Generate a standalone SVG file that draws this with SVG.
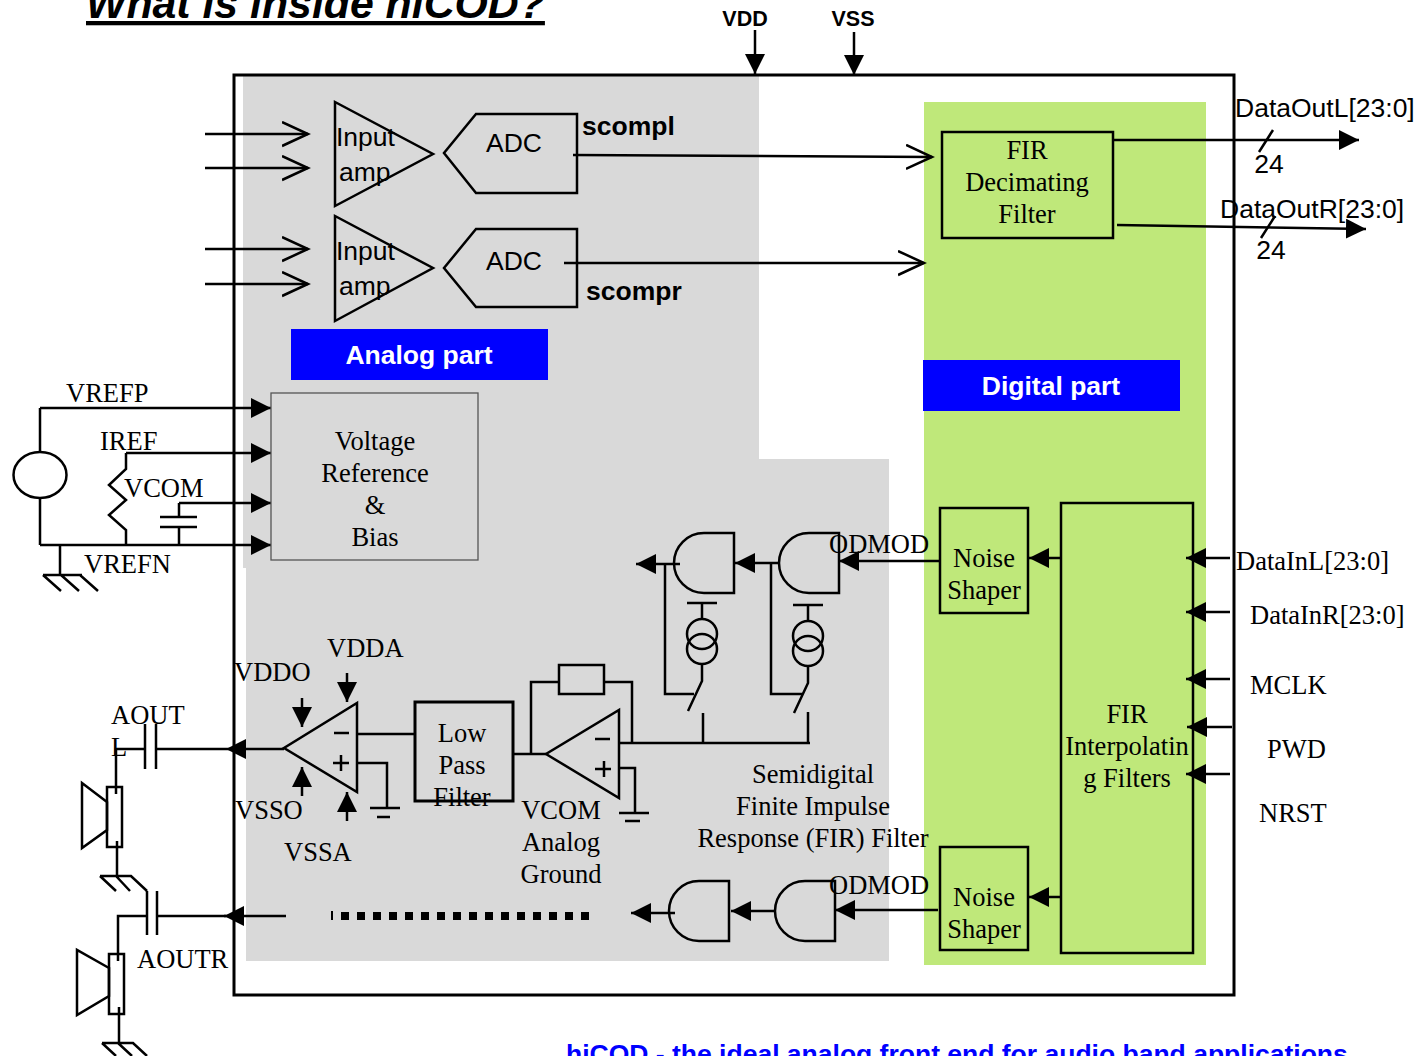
<svg xmlns="http://www.w3.org/2000/svg" width="1422" height="1056" viewBox="0 0 1422 1056">
<style>
.s{font-family:"Liberation Serif",serif;font-size:26.5px;fill:#000}
.a{font-family:"Liberation Sans",sans-serif;font-size:26.5px;fill:#000}
.b{font-family:"Liberation Sans",sans-serif;font-weight:bold;fill:#000}
.m{text-anchor:middle}
.l{fill:none;stroke:#000;stroke-width:2.5}
.t{fill:none;stroke:#000;stroke-width:3}
.h{fill:#000;stroke:none}
</style>
<defs>
<marker id="f" markerUnits="userSpaceOnUse" markerWidth="22" markerHeight="22" refX="20" refY="10" orient="auto"><path d="M0 0L20 10L0 20Z" fill="#000"/></marker>
<marker id="o" markerUnits="userSpaceOnUse" markerWidth="30" markerHeight="30" refX="26" refY="13" orient="auto"><path d="M0 1L26 13L0 25" fill="none" stroke="#000" stroke-width="2.5"/></marker>
<g id="and"><path class="l" d="M60 0H30A30 30 0 0 0 30 60H60Z"/></g>
<g id="cs"><path class="l" d="M-15 0H15M0 0V16M0 60V78L-14 108"/><ellipse class="l" cx="0" cy="31" rx="15" ry="15"/><ellipse class="l" cx="0" cy="46" rx="15" ry="15"/></g>
</defs>
<g id="backgrounds">
<path fill="#d9d9d9" d="M243 76H759V459H889V961H246V568H243Z"/>
<rect x="924" y="102" width="282" height="863" fill="#bfe87a"/>
<rect x="234" y="75" width="1000" height="920" class="t"/>
</g>
<text id="title" x="86" y="18" class="b" font-size="42.800" font-style="italic" text-decoration="underline">What is inside hiCOD?</text>
<g id="connectors">
<path class="l" marker-end="url(#f)" d="M755 30V74"/>
<path class="l" marker-end="url(#f)" d="M854 32V75"/>
<path class="l" marker-end="url(#o)" d="M205 134H308"/>
<path class="l" marker-end="url(#o)" d="M205 168H308"/>
<path class="l" marker-end="url(#o)" d="M205 249H308"/>
<path class="l" marker-end="url(#o)" d="M205 284H308"/>
<path class="l" marker-end="url(#o)" d="M573 155L932 157"/>
<path class="l" marker-end="url(#o)" d="M564 263H924"/>
<path class="l" marker-end="url(#f)" d="M1112 140H1359"/>
<path class="l" marker-end="url(#f)" d="M1117 225L1366 229"/>
<path class="l" d="M1259 152L1273 130M1261 238L1275 216"/>
<path class="l" marker-end="url(#f)" d="M40 408H271"/>
<path class="l" d="M40 408V545M40 545H271"/>
<path class="h" d="M251 535L271 545L251 555Z"/>
<path class="l" marker-end="url(#f)" d="M126 453H271"/>
<path class="l" d="M126 453V469L109 485L126 500L109 515L126 530V545"/>
<path class="l" marker-end="url(#f)" d="M179 503H271"/>
<path class="l" d="M179 503V517M160 517H197M160 527H197M179 527V545"/>
<path class="l" d="M60 545V574M43 575H82M43 575L61 591M61 575L79 591M80 575L98 591"/>
<path class="l" marker-end="url(#f)" d="M284 749H226"/>
<path class="l" d="M145 749H116V794M157 749H226M145 724V769M156 724V769"/>
<path class="l" d="M117 841V876M100 876H131L147 891M100 876L116 891M116 876L130 891"/>
<path class="l" marker-end="url(#f)" d="M286 916H224"/>
<path class="l" d="M147 916H118V961M158 916H226M147 891V935M157 891V935"/>
<path class="l" d="M119 1007V1043M102 1043H133L147 1056M102 1043L116 1056M118 1043L132 1056"/>
<path class="l" marker-end="url(#f)" d="M302 698V727"/>
<path class="l" marker-end="url(#f)" d="M347 673V702"/>
<path class="l" marker-end="url(#f)" d="M302 796V767"/>
<path class="l" marker-end="url(#f)" d="M347 821V792"/>
<path class="l" d="M357 734H415M357 763H387V808M370 808H400M377 817H390"/>
<path class="l" d="M513 754H546M531 754V682H559M604 682H632V743"/>
<path class="l" d="M619 743H810M703 743V713M808 743V712M620 768H635V813M619 813H649M625 821H640"/>
<path class="l" marker-end="url(#f)" d="M680 564H636"/>
<path class="l" marker-end="url(#f)" d="M780 563H735"/>
<path class="l" marker-end="url(#f)" d="M940 561H839"/>
<path class="l" d="M665 564V694H694M771 563V694H802"/>
<path class="l" marker-end="url(#f)" d="M1060 558H1029"/>
<path class="l" marker-end="url(#f)" d="M1060 897H1029"/>
<path class="l" marker-end="url(#f)" d="M1230 558H1186"/>
<path class="l" marker-end="url(#f)" d="M1230 612H1186"/>
<path class="l" marker-end="url(#f)" d="M1230 679H1186"/>
<path class="l" marker-end="url(#f)" d="M1232 727H1187"/>
<path class="l" marker-end="url(#f)" d="M1230 774H1186"/>
<path class="l" marker-end="url(#f)" d="M675 913H631"/>
<path class="l" marker-end="url(#f)" d="M775 911H731"/>
<path class="l" marker-end="url(#f)" d="M938 910H835"/>
<path fill="none" stroke="#000" stroke-width="8" stroke-dasharray="8 8" d="M341 916H590"/>
<path stroke="#000" stroke-width="2" d="M332 911V920"/>
</g>
<g id="amp1"><path class="l" d="M335 102V206L433 154Z"/><text class="a" x="336" y="146">Input</text><text class="a" x="339" y="181">amp</text></g>
<g id="amp2"><path class="l" d="M335 216V321L433 268Z"/><text class="a" x="336" y="260">Input</text><text class="a" x="339" y="295">amp</text></g>
<g id="adc1"><path class="l" d="M577 114V193H476L444 153L476 114Z"/><text class="a m" x="514" y="152">ADC</text></g>
<g id="adc2"><path class="l" d="M577 229V307H476L444 268L476 229Z"/><text class="a m" x="514" y="270">ADC</text></g>
<text class="b" x="582" y="135" font-size="26.500">scompl</text>
<text class="b" x="586" y="300" font-size="26.500">scompr</text>
<g id="analog-part"><rect x="291" y="329" width="257" height="51" fill="#0000ff"/><text class="b m" x="419" y="364" font-size="26.500" style="fill:#fff">Analog part</text></g>
<g id="digital-part"><rect x="923" y="360" width="257" height="51" fill="#0000ff"/><text class="b m" x="1051" y="395" font-size="26.500" style="fill:#fff">Digital part</text></g>
<g id="fir-dec"><rect x="942" y="132" width="171" height="106" class="l"/><text class="s m" x="1027" y="159">FIR</text><text class="s m" x="1027" y="191">Decimating</text><text class="s m" x="1027" y="223">Filter</text></g>
<g id="vref"><rect x="271" y="393" width="207" height="167" fill="#d9d9d9" stroke="#555" stroke-width="1.300"/><text class="s m" x="375" y="450">Voltage</text><text class="s m" x="375" y="482">Reference</text><text class="s m" x="375" y="514">&amp;</text><text class="s m" x="375" y="546">Bias</text></g>
<g id="source"><ellipse cx="40" cy="475" rx="26.500" ry="23" fill="#fff" stroke="#000" stroke-width="2.500"/></g>
<g id="ns1"><rect x="940" y="508" width="88" height="105" class="l"/><text class="s m" x="984" y="567">Noise</text><text class="s m" x="984" y="599">Shaper</text></g>
<g id="ns2"><rect x="940" y="847" width="88" height="103" class="l"/><text class="s m" x="984" y="906">Noise</text><text class="s m" x="984" y="938">Shaper</text></g>
<g id="fir-int"><rect x="1061" y="503" width="132" height="450" class="l"/><text class="s m" x="1127" y="723">FIR</text><text class="s m" x="1127" y="755">Interpolatin</text><text class="s m" x="1127" y="787">g Filters</text></g>
<g id="lpf"><rect x="415" y="702" width="98" height="99" class="t"/><text class="s m" x="462" y="742">Low</text><text class="s m" x="462" y="774">Pass</text><text class="s m" x="462" y="806">Filter</text></g>
<g id="opamp1"><path class="l" d="M357 703V792L284 748Z"/><path class="l" d="M334 733H349M333 763H349M341 755V771"/></g>
<g id="opamp2"><path class="l" d="M619 710V798L546 754Z"/><path class="l" d="M595 739H610M595 769H611M604 761V777"/></g>
<g id="resistor"><rect x="559" y="665" width="45" height="29" class="l"/></g>
<g id="speaker1"><rect x="107" y="787" width="15" height="60" class="l"/><path class="l" d="M107 802L82 783V848L107 830Z"/></g>
<g id="speaker2"><rect x="109" y="954" width="15" height="60" class="l"/><path class="l" d="M109 968L77 950V1015L109 996Z"/></g>
<g id="gates"><use href="#and" x="674" y="533"/><use href="#and" x="779" y="533"/><use href="#and" x="669" y="881"/><use href="#and" x="775" y="881"/></g>
<g id="sources"><use href="#cs" x="702" y="603"/><use href="#cs" x="808" y="605"/></g>
<g id="labels">
<text class="b m" x="745" y="26" font-size="21.500">VDD</text><text class="b m" x="853" y="26" font-size="21.500">VSS</text>
<text class="a" x="1235" y="117">DataOutL[23:0]</text><text class="a" x="1220" y="218">DataOutR[23:0]</text>
<text class="a m" x="1269" y="173">24</text><text class="a m" x="1271" y="259">24</text>
<text class="s" x="66" y="402">VREFP</text><text class="s" x="100" y="450">IREF</text><text class="s" x="124" y="497">VCOM</text><text class="s" x="84" y="573">VREFN</text>
<text class="s" x="234" y="681">VDDO</text><text class="s" x="327" y="657">VDDA</text><text class="s" x="235" y="819">VSSO</text><text class="s" x="284" y="861">VSSA</text>
<text class="s" x="111" y="724">AOUT</text><text class="s" x="111" y="756">L</text><text class="s" x="137" y="968">AOUTR</text>
<text class="s m" x="561" y="819">VCOM</text><text class="s m" x="561" y="851">Analog</text><text class="s m" x="561" y="883">Ground</text>
<text class="s m" x="813" y="783">Semidigital</text><text class="s m" x="813" y="815">Finite Impulse</text><text class="s m" x="813" y="847">Response (FIR) Filter</text>
<text class="s" x="829" y="553">ODMOD</text><text class="s" x="829" y="894">ODMOD</text>
<text class="s" x="1236" y="570">DataInL[23:0]</text><text class="s" x="1250" y="624">DataInR[23:0]</text><text class="s" x="1250" y="694">MCLK</text><text class="s" x="1267" y="758">PWD</text><text class="s" x="1259" y="822">NRST</text>
<text x="566" y="1063" class="b" font-size="26.500" style="fill:#0000ff">hiCOD - the ideal analog front end for audio band applications</text>
</g>
</svg>
